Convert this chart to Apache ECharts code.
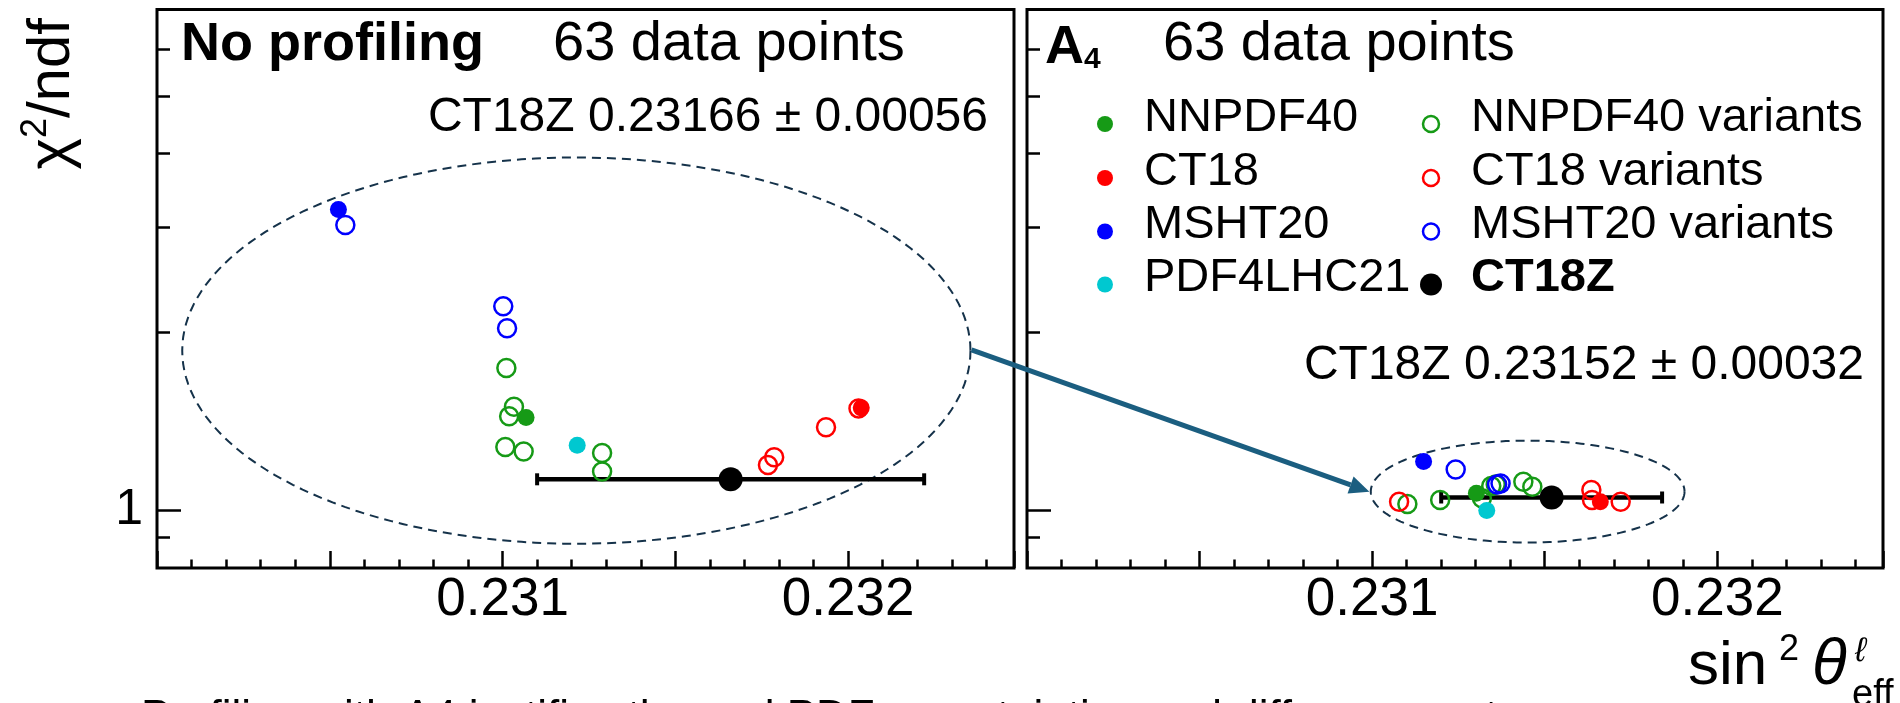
<!DOCTYPE html>
<html>
<head>
<meta charset="utf-8">
<script src="https://cdn.jsdelivr.net/npm/echarts@6/dist/echarts.min.js"></script>
<style>
  html, body { margin: 0; padding: 0; background: #fff; }
  #main { width: 1900px; height: 703px; }
</style>
</head>
<body>
<div id="main"></div>
<script>
// axis ticks / labels
const xLabels = [0.231, 0.232];
const yMajorTicks = [1];
const yMinorTicks = [0.9, 2, 3, 4, 5, 6];
const yLabels = [1];

// left panel: no profiling  [sin2theta, chi2/ndf]
const noProfNNPDF40 = [[0.231068, 1.435]];
const noProfNNPDF40Var = [[0.231011, 1.74], [0.231033, 1.497], [0.231019, 1.442], [0.231008, 1.28], [0.231061, 1.258], [0.231288, 1.25], [0.231288, 1.164]];
const noProfCT18 = [[0.232038, 1.49]];
const noProfCT18Var = [[0.231768, 1.193], [0.231786, 1.23], [0.231936, 1.382], [0.232030, 1.487]];
const noProfMSHT20 = [[0.230525, 3.22]];
const noProfMSHT20Var = [[0.230545, 3.03], [0.231002, 2.21], [0.231013, 2.03]];
const noProfPDF4LHC21 = [[0.231216, 1.289]];
const noProfCT18Z = [[0.23166, 1.129, 0.00056]];

// right panel: A4 profiling
const a4NNPDF40 = [[0.231302, 1.069]];
const a4NNPDF40Var = [[0.231102, 1.026], [0.231197, 1.042], [0.231318, 1.049], [0.231345, 1.10], [0.231358, 1.106], [0.231438, 1.118], [0.231464, 1.097]];
const a4CT18 = [[0.231661, 1.035]];
const a4CT18Var = [[0.231078, 1.035], [0.231635, 1.083], [0.231637, 1.042], [0.23172, 1.035]];
const a4MSHT20 = [[0.231149, 1.21]];
const a4MSHT20Var = [[0.231242, 1.173], [0.231372, 1.111], [0.231362, 1.106]];
const a4PDF4LHC21 = [[0.231332, 1.0]];
const a4CT18Z = [[0.23152, 1.052, 0.00032]];

// annotation ellipses [xmin, xmax, ymin, ymax] and arrow ends
const noProfEllipse = [[0.230073, 0.232354, 0.879, 3.94]];
const a4Ellipse = [[0.230996, 0.231905, 0.883, 1.312]];
const arrowFrom = [0.232357, 1.867];
const arrowTo = [0.230992, 1.076];

const FONT = 'Liberation Sans, Arial, Helvetica, sans-serif';
const GREEN = '#169a16', RED = '#ff0000', BLUE = '#0000ff', CYAN = '#00c8d0';

const grids = [
  { left: 157, top: 9.5, width: 857, height: 558.5 },
  { left: 1027, top: 9.5, width: 856, height: 558.5 }
];

function xAxisFor(g) {
  return {
    type: 'value', gridIndex: g, min: 0.23, max: 0.23248, interval: 0.0005,
    axisLine: { show: false }, splitLine: { show: false },
    axisTick: { show: true, inside: true, length: 17, lineStyle: { color: '#000', width: 2.5 } },
    minorTick: { show: true, splitNumber: 5, length: 8.5, lineStyle: { color: '#000', width: 2.5 } },
    axisLabel: { customValues: xLabels, formatter: v => v.toFixed(3), fontSize: 53, fontFamily: FONT, color: '#000', margin: 6 }
  };
}
function yAxisFor(g, major) {
  return {
    type: 'log', logBase: 10, gridIndex: g, min: 0.8, max: 7, position: 'left',
    axisLine: { show: false }, splitLine: { show: false },
    axisTick: { show: true, inside: true, length: major ? 24 : 13, customValues: major ? yMajorTicks : yMinorTicks, lineStyle: { color: '#000', width: 2.5 } },
    axisLabel: { show: major && g === 0, customValues: yLabels, formatter: v => String(Math.round(v)), fontSize: 50, fontFamily: FONT, color: '#000', margin: 14 }
  };
}

function filled(g, data, color, size, z) {
  return { type: 'scatter', xAxisIndex: g, yAxisIndex: g * 2, data, symbol: 'circle', symbolSize: size || 17,
    itemStyle: { color, opacity: 1 }, z: z || 4, silent: true };
}
function open(g, data, color) {
  return { type: 'scatter', xAxisIndex: g, yAxisIndex: g * 2, data, symbol: 'circle', symbolSize: 18,
    itemStyle: { color: 'rgba(0,0,0,0)', borderColor: color, borderWidth: 2.5, opacity: 1 }, z: 3, silent: true };
}
function errBar(g, data) {
  return { type: 'custom', xAxisIndex: g, yAxisIndex: g * 2, data, z: 2, silent: true,
    renderItem: function (params, api) {
      const x = api.value(0), y = api.value(1), e = api.value(2);
      const p1 = api.coord([x - e, y]), p2 = api.coord([x + e, y]);
      const st = { stroke: '#000', lineWidth: 4.5 };
      return { type: 'group', children: [
        { type: 'line', shape: { x1: p1[0], y1: p1[1], x2: p2[0], y2: p2[1] }, style: st },
        { type: 'line', shape: { x1: p1[0], y1: p1[1] - 6, x2: p1[0], y2: p1[1] + 6 }, style: { stroke: '#000', lineWidth: 4 } },
        { type: 'line', shape: { x1: p2[0], y1: p2[1] - 6, x2: p2[0], y2: p2[1] + 6 }, style: { stroke: '#000', lineWidth: 4 } }
      ] };
    } };
}
function ellipse(g, data) {
  return { type: 'custom', xAxisIndex: g, yAxisIndex: g * 2, data, z: 1, silent: true, clip: false,
    renderItem: function (params, api) {
      const a = api.coord([api.value(0), api.value(2)]);
      const b = api.coord([api.value(1), api.value(3)]);
      const cx = (a[0] + b[0]) / 2, cy = (a[1] + b[1]) / 2;
      const rx = Math.abs(b[0] - a[0]) / 2, ry = Math.abs(b[1] - a[1]) / 2;
      const pts = [];
      for (let i = 0; i <= 180; i++) {
        const t = i / 180 * Math.PI * 2;
        pts.push([cx + rx * Math.cos(t), cy + ry * Math.sin(t)]);
      }
      return { type: 'polyline', shape: { points: pts },
        style: { fill: 'none', stroke: '#15324a', lineWidth: 2, lineDash: [9, 6] } };
    } };
}

const series = [
  ellipse(0, noProfEllipse), errBar(0, noProfCT18Z),
  open(0, noProfNNPDF40Var, GREEN), open(0, noProfCT18Var, RED), open(0, noProfMSHT20Var, BLUE),
  filled(0, noProfNNPDF40, GREEN), filled(0, noProfCT18, RED), filled(0, noProfMSHT20, BLUE), filled(0, noProfPDF4LHC21, CYAN),
  filled(0, noProfCT18Z, '#000', 24, 6),
  ellipse(1, a4Ellipse), errBar(1, a4CT18Z),
  open(1, a4NNPDF40Var, GREEN), open(1, a4CT18Var, RED), open(1, a4MSHT20Var, BLUE),
  filled(1, a4NNPDF40, GREEN), filled(1, a4CT18, RED), filled(1, a4MSHT20, BLUE), filled(1, a4PDF4LHC21, CYAN),
  filled(1, a4CT18Z, '#000', 24, 6)
];

function txt(x, y, s, size, extra) {
  return { type: 'text', x, y, z: 10, silent: true,
    style: Object.assign({ text: s, fontSize: size, fontFamily: FONT, fill: '#000', align: 'left', verticalAlign: 'middle' }, extra || {}) };
}
function dot(x, y, color, r) {
  return { type: 'circle', z: 10, silent: true, shape: { cx: x, cy: y, r: r || 8 }, style: { fill: color } };
}
function ring(x, y, color) {
  return { type: 'circle', z: 10, silent: true, shape: { cx: x, cy: y, r: 8 }, style: { fill: 'none', stroke: color, lineWidth: 2.5 } };
}

const legendRows = [124, 178, 231.5, 284.5];
const graphics = [
  txt(181, 45, 'No profiling', 54, { fontWeight: 'bold' }),
  txt(553, 45, '63 data points', 56),
  txt(988, 118, 'CT18Z 0.23166 \u00b1 0.00056', 48, { align: 'right' }),
  txt(1045, 45, '{a|A}{s|4}', 54, { rich: { a: { fontSize: 54, fontWeight: 'bold', fontFamily: FONT, verticalAlign: 'bottom', lineHeight: 60 }, s: { fontSize: 30, fontWeight: 'bold', fontFamily: FONT, verticalAlign: 'bottom', lineHeight: 36 } } }),
  txt(1163, 45, '63 data points', 56),
  dot(1105, legendRows[0], GREEN), txt(1144, legendRows[0] - 6, 'NNPDF40', 47),
  dot(1105, legendRows[1], RED), txt(1144, legendRows[1] - 6, 'CT18', 47),
  dot(1105, legendRows[2], BLUE), txt(1144, legendRows[2] - 6, 'MSHT20', 47),
  dot(1105, legendRows[3], CYAN), txt(1144, legendRows[3] - 6, 'PDF4LHC21', 47),
  ring(1431, legendRows[0], GREEN), txt(1471, legendRows[0] - 6, 'NNPDF40 variants', 47),
  ring(1431, legendRows[1], RED), txt(1471, legendRows[1] - 6, 'CT18 variants', 47),
  ring(1431, legendRows[2], BLUE), txt(1471, legendRows[2] - 6, 'MSHT20 variants', 47),
  dot(1431, legendRows[3], '#000', 11), txt(1471, legendRows[3] - 6, 'CT18Z', 47, { fontWeight: 'bold' }),
  txt(1864, 366, 'CT18Z 0.23152 \u00b1 0.00032', 48, { align: 'right' }),
  // y title
  { type: 'text', x: 50, y: 18, rotation: Math.PI / 2, z: 10, silent: true,
    style: { text: '{a|\u03c7}{s|2}{a|/ndf}', align: 'right', verticalAlign: 'middle',
      rich: { a: { fontSize: 60, fontFamily: FONT, verticalAlign: 'bottom', lineHeight: 64 }, s: { fontSize: 36, fontFamily: FONT, verticalAlign: 'top', lineHeight: 42 } } } },
  // x title
  txt(1688, 667, 'sin', 62),
  txt(1779, 650, '2', 36),
  txt(1812, 666, '\u03b8', 64, { fontStyle: 'italic' }),
  txt(1855, 652, '\u2113', 34, { fontStyle: 'italic' }),
  txt(1852, 696, 'eff', 38),
  // caption cut by the image edge
  txt(141, 697, 'Profiling with A4 justifies the real PDF uncertainties and differences at', 44, { verticalAlign: 'top' })
];

const chart = echarts.init(document.getElementById('main'));
chart.setOption({
  animation: false,
  backgroundColor: '#fff',
  grid: grids.map(g => Object.assign({ show: true, borderColor: '#000', borderWidth: 3, backgroundColor: 'transparent', containLabel: false }, g)),
  xAxis: [xAxisFor(0), xAxisFor(1)],
  yAxis: [yAxisFor(0, true), yAxisFor(0, false), yAxisFor(1, true), yAxisFor(1, false)],
  series,
  graphic: graphics
});

// arrow from the left ellipse to the right one
const p0 = chart.convertToPixel({ xAxisIndex: 0, yAxisIndex: 0 }, arrowFrom);
const p1 = chart.convertToPixel({ xAxisIndex: 1, yAxisIndex: 2 }, arrowTo);
const ang = Math.atan2(p1[1] - p0[1], p1[0] - p0[0]);
const headLen = 20, headW = 9;
const bx = p1[0] - headLen * Math.cos(ang), by = p1[1] - headLen * Math.sin(ang);
graphics.push({ type: 'line', z: 9, silent: true, shape: { x1: p0[0], y1: p0[1], x2: bx, y2: by }, style: { stroke: '#1b5e80', lineWidth: 5 } });
graphics.push({ type: 'polygon', z: 9, silent: true, shape: { points: [
  [p1[0], p1[1]],
  [bx + headW * Math.sin(ang), by - headW * Math.cos(ang)],
  [bx - headW * Math.sin(ang), by + headW * Math.cos(ang)]
] }, style: { fill: '#1b5e80' } });
chart.setOption({ graphic: graphics });
</script>
</body>
</html>
